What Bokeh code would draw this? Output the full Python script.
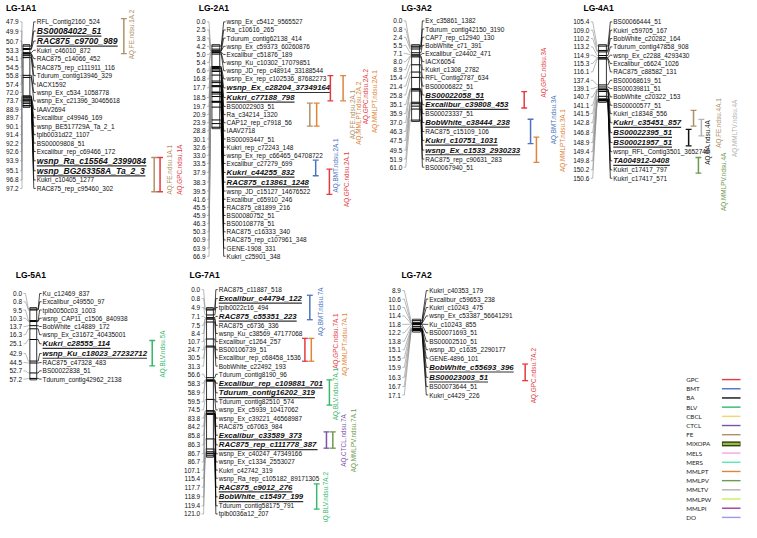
import math
from bokeh.plotting import figure
from bokeh.models import ColumnDataSource
from bokeh.core.properties import value
from bokeh.embed import file_html
from bokeh.resources import INLINE

# ---------------- data ----------------
lg1a1_pos = [47.9, 49.9, 50.7, 53.3, 54.1, 54.5, 55.8, 57.4, 72.0, 73.7, 88.9, 89.7, 90.1, 91.4, 92.2, 92.6, 93.9, 95.1, 96.8, 97.2]
lg1a1_mrk = ["RFL_Contig2160_524", "BS00084022_51", "RAC875_c9700_989", "Kukri_c46010_872", "RAC875_c14066_452",
             "RAC875_rep_c111911_116", "Tdurum_contig13946_329", "IACX1592", "wsnp_Ex_c534_1058778",
             "wsnp_Ex_c21396_30465618", "IAAV2694", "Excalibur_c49946_169", "wsnp_BE517729A_Ta_2_1",
             "tplb0031d22_1107", "BS00009808_51", "Excalibur_rep_c69466_172", "wsnp_Ra_c15564_2399084",
             "wsnp_BG263358A_Ta_2_3", "Kukri_c10405_1277", "RAC875_rep_c95460_302"]
lg1a1_bold = [1, 2, 16, 17]

lg2a1_pos = [0.0, 2.5, 3.8, 4.2, 5.0, 5.4, 6.6, 16.8, 17.7, 18.5, 19.7, 20.9, 23.9, 28.8, 30.1, 32.6, 33.0, 33.5,
             37.9, 38.3, 39.5, 41.6, 45.5, 45.9, 46.3, 50.3, 60.9, 63.9, 66.9]
lg2a1_mrk = ["wsnp_Ex_c5412_9565527", "Ra_c10616_265", "Tdurum_contig62138_414", "wsnp_Ex_c59373_60260876",
             "Excalibur_c51876_189", "wsnp_Ku_c10302_17079851", "wsnp_JD_rep_c48914_33188544",
             "wsnp_Ex_rep_c102536_87682273", "wsnp_Ex_c28204_37349164", "Kukri_c77188_798", "BS00022903_51",
             "Ra_c34214_1320", "CAP12_rep_c7918_56", "IAAV2718", "BS00093447_51", "Kukri_rep_c72243_148",
             "wsnp_Ex_rep_c66465_64708722", "Excalibur_c27279_699", "Kukri_c44255_832", "RAC875_c13861_1248",
             "wsnp_JD_c15127_14676522", "Excalibur_c65910_246", "RAC875_c81899_216", "BS00080752_51",
             "BS00108778_51", "RAC875_c16333_340", "RAC875_rep_c107961_348", "GENE-1908_331", "Kukri_c25901_348"]
lg2a1_bold = [8, 9, 18, 19]

lg3a2_pos = [0.0, 0.8, 2.4, 5.5, 7.1, 8.0, 8.9, 15.4, 21.4, 25.8, 35.1, 35.9, 37.0, 46.3, 47.5, 49.5, 51.9, 61.0]
lg3a2_mrk = ["Ex_c35861_1382", "Tdurum_contig42150_3190", "CAP7_rep_c12940_130", "BobWhite_c71_391",
             "Excalibur_c24402_471", "IACX6054", "Kukri_c1308_2782", "RFL_Contig2787_634", "BS00006822_51",
             "BS00022058_51", "Excalibur_c39808_453", "BS00023337_51", "BobWhite_c38444_238", "RAC875_c15109_106",
             "Kukri_c10751_1031", "wsnp_Ex_c1533_2930233", "RAC875_rep_c90631_283", "BS00067940_51"]
lg3a2_bold = [9, 10, 12, 14, 15]

lg4a1_pos = [105.4, 109.0, 110.2, 113.2, 114.9, 115.3, 116.1, 137.4, 139.1, 140.7, 141.1, 141.5, 142.8, 146.8,
             148.9, 149.4, 149.8, 150.2, 150.6]
lg4a1_mrk = ["BS00066444_51", "Kukri_c59705_167", "BobWhite_c20282_164", "Tdurum_contig47858_908",
             "wsnp_Ex_c2288_4293430", "Excalibur_c6624_1026", "RAC875_c88582_131", "BS00068619_51",
             "BS00039811_51", "BobWhite_c20322_153", "BS00000577_51", "Kukri_c18348_556", "Kukri_c35451_857",
             "BS00022395_51", "BS00021957_51", "wsnp_RFL_Contig3501_3652740", "TA004912-0408",
             "Kukri_c17417_797", "Kukri_c17417_571"]
lg4a1_bold = [12, 13, 14, 16]

lg5a1_pos = [0.0, 0.8, 9.5, 10.3, 13.7, 16.3, 25.1, 42.9, 44.5, 52.7, 57.2]
lg5a1_mrk = ["Ku_c12469_837", "Excalibur_c49550_97", "tplb0050c03_1003", "wsnp_CAP11_c1506_840938",
             "BobWhite_c14889_172", "wsnp_Ex_c31672_40435001", "Kukri_c28555_114", "wsnp_Ku_c18023_27232712",
             "RAC875_c47328_483", "BS00022838_51", "Tdurum_contig42962_2138"]
lg5a1_bold = [6, 7]

lg7a1_pos = [0.0, 0.8, 4.9, 7.1, 7.5, 8.4, 10.7, 24.7, 30.5, 31.3, 56.6, 58.3, 58.9, 59.5, 74.5, 83.8, 84.2, 85.8,
             86.3, 86.7, 86.7, 107.1, 115.4, 117.7, 118.9, 119.4, 121.0]
lg7a1_mrk = ["RAC875_c11887_518", "Excalibur_c44794_122", "tplb0022c16_494", "RAC875_c55351_223",
             "RAC875_c6736_336", "wsnp_Ku_c38569_47177068", "Excalibur_c1264_257", "BS00106739_51",
             "Excalibur_rep_c68458_1536", "BobWhite_c22492_193", "Tdurum_contig8190_96",
             "Excalibur_rep_c109881_701", "Tdurum_contig16202_319", "Tdurum_contig82510_574",
             "wsnp_Ex_c5939_10417062", "wsnp_Ex_c39221_46568987", "RAC875_c67063_984", "Excalibur_c33589_373",
             "RAC875_rep_c111778_387", "wsnp_Ex_c40247_47349166", "wsnp_Ex_c1334_2553027", "Kukri_c42742_319",
             "wsnp_Ra_rep_c105182_89171305", "RAC875_c9012_276", "BobWhite_c15497_199",
             "Tdurum_contig58175_791", "tplb0036a12_207"]
lg7a1_bold = [1, 3, 11, 12, 17, 18, 23, 24]

lg7a2_pos = [8.9, 10.6, 11.0, 11.4, 11.8, 12.2, 13.8, 15.1, 15.5, 15.9, 16.3, 16.7, 17.1]
lg7a2_mrk = ["Kukri_c40353_179", "Excalibur_c59653_238", "Kukri_c10243_475", "wsnp_Ex_c53387_56641291",
             "Ku_c10243_855", "BS00071693_51", "BS00002510_51", "wsnp_JD_c1635_2290177", "GENE-4896_101",
             "BobWhite_c55693_396", "BS00023003_51", "BS00073644_51", "Kukri_c4429_226"]
lg7a2_bold = [9, 10]

# QTL intervals (flanking marker indices)
qtl_group = ["LG-1A1", "LG-1A1", "LG-1A1", "LG-2A1", "LG-2A1", "LG-2A1", "LG-2A1", "LG-2A1", "LG-2A1",
             "LG-3A2", "LG-3A2", "LG-3A2", "LG-4A1", "LG-4A1", "LG-4A1", "LG-4A1", "LG-5A1",
             "LG-7A1", "LG-7A1", "LG-7A1", "LG-7A1", "LG-7A1", "LG-7A1", "LG-7A1", "LG-7A2"]
qtl_trait = ["FE", "FE", "GPC", "GPC", "MMLPT", "FE", "MMLPT", "BMT", "GPC",
             "GPC", "BMT", "MMLPT", "FE", "MMLTV", "BA", "MMLPV", "BLV",
             "BMT", "GPC", "MMLPT", "BLV", "CTCL", "MMLPV", "BLV", "GPC"]
qtl_name = ["AQ.FE.ndsu.1A.2", "AQ.FE.ndsu.1A.1", "AQ.GPC.ndsu.1A", "AQ.GPC.ndsu.2A.2", "AQ.MMLPT.ndsu.2A.1",
            "AQ.FE.ndsu.2A.1", "AQ.MMLPT.ndsu.2A.2", "AQ.BMT.ndsu.2A.1", "AQ.GPC.ndsu.2A.1",
            "AQ.GPC.ndsu.3A", "AQ.BMT.ndsu.3A", "AQ.MMLPT.ndsu.3A.1", "AQ.FE.ndsu.4A.1", "AQ.MMLTV.ndsu.4A",
            "AQ.BA.ndsu.4A", "AQ.MMLPV.ndsu.4A", "AQ.BLV.ndsu.5A", "AQ.BMT.ndsu.7A", "AQ.GPC.ndsu.7A.1",
            "AQ.MMLPT.ndsu.7A.1", "AQ.BLV.ndsu.7A.1", "AQ.CTCL.ndsu.7A", "AQ.MMLPV.ndsu.7A.1",
            "AQ.BLV.ndsu.7A.2", "AQ.GPC.ndsu.7A.2"]
qtl_from = [0, 16, 16, 7, 7, 10, 10, 17, 18, 9, 12, 14, 11, 12, 13, 16, 6, 1, 6, 6, 11, 17, 17, 23, 9]
qtl_to = [3, 19, 19, 9, 9, 12, 12, 18, 20, 10, 14, 16, 12, 13, 14, 17, 8, 3, 8, 8, 13, 18, 18, 25, 10]

legend_traits = ["GPC", "BMT", "BA", "BLV", "CBCL", "CTCL", "FE", "MIXOPA", "MELS", "MERS", "MMLPT",
                 "MMLPV", "MMLTV", "MMLPW", "MMLPI", "DO"]

# ---------------- styles / layout ----------------
trait_color = {"GPC": "#e43a3f", "BMT": "#4a74c0", "BA": "#111111", "BLV": "#35b96c", "CBCL": "#f6d46e",
               "CTCL": "#7b52ab", "FE": "#b09068", "MIXOPA": "#9bbb3a", "MELS": "#f5a6e4", "MERS": "#5de6b6",
               "MMLPT": "#e0843a", "MMLPV": "#6e9a4c", "MMLTV": "#b3b3b3", "MMLPW": "#c9ef5c",
               "MMLPI": "#a03ca8", "DO": "#9a9af0"}

# layout offsets in reference pixels (bar x, label x, label offset from bar centre)
qtl_bar_x = [126, 157, 163, 337, 350, 316, 323, 322, 336, 535, 541.5, 547.5, 708, 716, 703, 713, 155,
             316, 311, 317.5, 336, 333, 339.5, 323, 536]
qtl_lab_x = [134, 173, 183, 373, 382.5, 359.5, 366, 342.5, 353.5, 555, 565, 574.5, 733, 749.5, 722, 739, 166,
             326.5, 342.5, 351.5, 342, 350.5, 361, 332.5, 545]
qtl_lab_dy = [-1.7, -5, -5, 8.7, 13.8, 0, -1.4, -2.6, -2.3, -28, -12, -9.4, 5, 0.6, 5.1, 17, 0.9,
              4.5, -9, -5.5, 1.7, 0.5, 0.5, 1.8, 3.4]

groups = [
    ("LG-1A1", lg1a1_pos, lg1a1_mrk, lg1a1_bold),
    ("LG-2A1", lg2a1_pos, lg2a1_mrk, lg2a1_bold),
    ("LG-3A2", lg3a2_pos, lg3a2_mrk, lg3a2_bold),
    ("LG-4A1", lg4a1_pos, lg4a1_mrk, lg4a1_bold),
    ("LG-5A1", lg5a1_pos, lg5a1_mrk, lg5a1_bold),
    ("LG-7A1", lg7a1_pos, lg7a1_mrk, lg7a1_bold),
    ("LG-7A2", lg7a2_pos, lg7a2_mrk, lg7a2_bold),
]
layout = {
    "LG-1A1": dict(tx=21, ty=8, y0=22, base=8.7, top=47, nr=18.5, cl=23, cr=30, ll=37, bfs=8.8),
    "LG-2A1": dict(tx=218, ty=8, y0=22, base=8.4, top=47, nr=209.5, cl=216, cr=224, ll=231, bfs=8.0),
    "LG-3A2": dict(tx=425, ty=8, y0=21, base=8.4, top=47, nr=410.5, cl=420, cr=428, ll=434, bfs=8.0),
    "LG-4A1": dict(tx=611, ty=8, y0=22, base=8.6, top=47, nr=601.5, cl=611, cr=619, ll=626, bfs=8.0),
    "LG-5A1": dict(tx=31, ty=283, y0=302, base=8.5, top=318, nr=22, cl=30, cr=37, ll=43, bfs=8.0),
    "LG-7A1": dict(tx=208.5, ty=283, y0=298, base=8.4, top=318, nr=204, cl=210.5, cr=217.5, ll=223, bfs=8.0),
    "LG-7A2": dict(tx=425, ty=283, y0=299, base=8.7, top=330, nr=409, cl=421, cr=429, ll=438, bfs=8.0),
}
CM_PX = 1.25
PAD = 3.4
BOLD_EXTRA = 0.8

W, H = 741, 522
RW, RH = 757, 538
SX = W / RW
FONT = "Liberation Sans"


def fs(v):
    return value(f"{v * SX:.2f}px")


ARIAL_B = dict(zip("0123456789", [556] * 10))
ARIAL_B.update({"_": 556, "-": 333, ".": 278, " ": 278})
ARIAL_B.update(dict(zip("ABCDEFGHIJKLMNOPQRSTUVWXYZ",
                        [722, 722, 722, 722, 667, 611, 778, 722, 278, 556, 722, 611, 833, 722, 778, 667, 778,
                         722, 667, 611, 722, 667, 944, 667, 667, 611])))
ARIAL_B.update(dict(zip("abcdefghijklmnopqrstuvwxyz",
                        [556, 611, 556, 611, 556, 333, 611, 611, 278, 278, 556, 278, 889, 611, 611, 611, 611,
                         389, 556, 333, 611, 556, 778, 556, 556, 500])))

LAB_FS = 6.6
NUM_FS = 6.6


def bold_width(s, size):
    return sum(ARIAL_B.get(c, 556) for c in s) / 1000.0 * size


def row_positions(n, bold, y0, base):
    ys = [y0]
    for i in range(1, n):
        nb = (i - 1 in bold) + (i in bold)
        ys.append(ys[-1] + base + BOLD_EXTRA * nb)
    return ys


p = figure(width=W, height=H, x_range=(0, RW), y_range=(RH, 0), output_backend="svg",
           toolbar_location=None, min_border=0, x_axis_type=None, y_axis_type=None)
p.grid.visible = False
p.outline_line_color = None
p.background_fill_color = "white"
p.border_fill_color = "white"

num = dict(x=[], y=[], t=[])
lab = dict(x=[], y=[], t=[])
blab = {}
ttl = dict(x=[], y=[], t=[])
ul_xs, ul_ys = [], []
lc_xs, lc_ys = [], []
rc_xs, rc_ys = [], []
tk_xs, tk_ys = [], []
chr_box = dict(l=[], r=[], t=[], b=[])
rows_by_group = {}

for name, pos, mrk, bold in groups:
    L = layout[name]
    rows = row_positions(len(pos), set(bold), L["y0"], L["base"])
    rows_by_group[name] = rows
    cy = [L["top"] + (v - pos[0]) * CM_PX for v in pos]
    ttl["x"].append(L["tx"]); ttl["y"].append(L["ty"]); ttl["t"].append(name)
    bsrc = blab.setdefault(L["bfs"], dict(x=[], y=[], t=[]))
    for i, (v, m) in enumerate(zip(pos, mrk)):
        ry = rows[i]
        num["x"].append(L["nr"]); num["y"].append(ry); num["t"].append(f"{v:.1f}")
        lc_xs.append([L["nr"] + 1.5, L["nr"] + 3.5, L["cl"] - 1.5, L["cl"]])
        lc_ys.append([ry, ry, cy[i], cy[i]])
        rc_xs.append([L["cr"], L["cr"] + 1.5, L["ll"] - 3, L["ll"] - 1])
        rc_ys.append([cy[i], cy[i], ry, ry])
        tk_xs.append([L["cl"], L["cr"]]); tk_ys.append([cy[i], cy[i]])
        if i in bold:
            bsrc["x"].append(L["ll"]); bsrc["y"].append(ry); bsrc["t"].append(m)
            uy = ry + 0.6 * L["bfs"]
            ul_xs.append([L["ll"], L["ll"] + bold_width(m, L["bfs"])]); ul_ys.append([uy, uy])
        else:
            lab["x"].append(L["ll"]); lab["y"].append(ry); lab["t"].append(m)
    chr_box["l"].append(L["cl"]); chr_box["r"].append(L["cr"])
    chr_box["t"].append(cy[0] - 1.5); chr_box["b"].append(cy[-1] + 1.5)

p.multi_line(xs=lc_xs, ys=lc_ys, line_color="#8a8a8a", line_width=0.6)
p.multi_line(xs=rc_xs, ys=rc_ys, line_color="#000000", line_width=0.7)
p.quad(left="l", right="r", top="t", bottom="b", source=ColumnDataSource(chr_box),
       fill_color="white", line_color="#000000", line_width=0.8)
p.multi_line(xs=tk_xs, ys=tk_ys, line_color="#000000", line_width=1.0)

p.text(x="x", y="y", text="t", source=ColumnDataSource(num), text_font=value(FONT),
       text_font_size=fs(NUM_FS), text_align="right", text_baseline="middle", text_color="#111111")
p.text(x="x", y="y", text="t", source=ColumnDataSource(lab), text_font=value(FONT),
       text_font_size=fs(LAB_FS), text_align="left", text_baseline="middle", text_color="#111111")
for size, src in blab.items():
    p.text(x="x", y="y", text="t", source=ColumnDataSource(src), text_font=value(FONT),
           text_font_size=fs(size), text_font_style="bold italic", text_align="left",
           text_baseline="middle", text_color="#111111")
p.multi_line(xs=ul_xs, ys=ul_ys, line_color="#333333", line_width=1.2)
p.text(x="x", y="y", text="t", source=ColumnDataSource(ttl), text_font=value(FONT),
       text_font_size=fs(8.7), text_font_style="bold", text_align="center", text_baseline="middle",
       text_color="#000000")

# QTL bars and labels
bar_xs, bar_ys, bar_c = [], [], []
cap_xs, cap_ys, cap_c = [], [], []
ql = dict(x=[], y=[], t=[], c=[])
for g, tr, nm, i0, i1, bx, lx, dy in zip(qtl_group, qtl_trait, qtl_name, qtl_from, qtl_to,
                                          qtl_bar_x, qtl_lab_x, qtl_lab_dy):
    rows = rows_by_group[g]
    y0 = rows[i0] - PAD
    y1 = rows[i1] + PAD
    col = trait_color[tr]
    bar_xs.append([bx, bx]); bar_ys.append([y0, y1]); bar_c.append(col)
    for yy in (y0, y1):
        cap_xs.append([bx - 3, bx + 3]); cap_ys.append([yy, yy]); cap_c.append(col)
    ql["x"].append(lx); ql["y"].append((y0 + y1) / 2 + dy); ql["t"].append(nm); ql["c"].append(col)

p.multi_line(xs="xs", ys="ys", line_color="c", line_width=1.5,
             source=ColumnDataSource(dict(xs=bar_xs, ys=bar_ys, c=bar_c)))
p.multi_line(xs="xs", ys="ys", line_color="c", line_width=1.3,
             source=ColumnDataSource(dict(xs=cap_xs, ys=cap_ys, c=cap_c)))
p.text(x="x", y="y", text="t", text_color="c", source=ColumnDataSource(ql), text_font=value(FONT),
       text_font_size=fs(6.5), text_align="center", text_baseline="middle", angle=math.pi / 2)

# legend
LEG_Y0, LEG_DY = 390.7, 9.47
leg = dict(x=[], y=[], t=[])
lg_xs, lg_ys, lg_c = [], [], []
for k, tr in enumerate(legend_traits):
    yy = LEG_Y0 + k * LEG_DY
    leg["x"].append(700.5); leg["y"].append(yy); leg["t"].append(tr)
    if tr == "MIXOPA":
        p.line(x=[737, 756], y=[yy, yy], line_color="#33401a", line_width=5)
        p.line(x=[737.8, 755.2], y=[yy, yy], line_color="#9bbb3a", line_width=2.2)
    else:
        lg_xs.append([737, 756]); lg_ys.append([yy, yy]); lg_c.append(trait_color[tr])
p.multi_line(xs="xs", ys="ys", line_color="c", line_width=1.4,
             source=ColumnDataSource(dict(xs=lg_xs, ys=lg_ys, c=lg_c)))
p.text(x="x", y="y", text="t", source=ColumnDataSource(leg), text_font=value("Lato"),
       text_font_size=fs(6.4), text_align="left", text_baseline="middle", text_color="#222222")

open("out.html", "w").write(file_html(p, INLINE))
